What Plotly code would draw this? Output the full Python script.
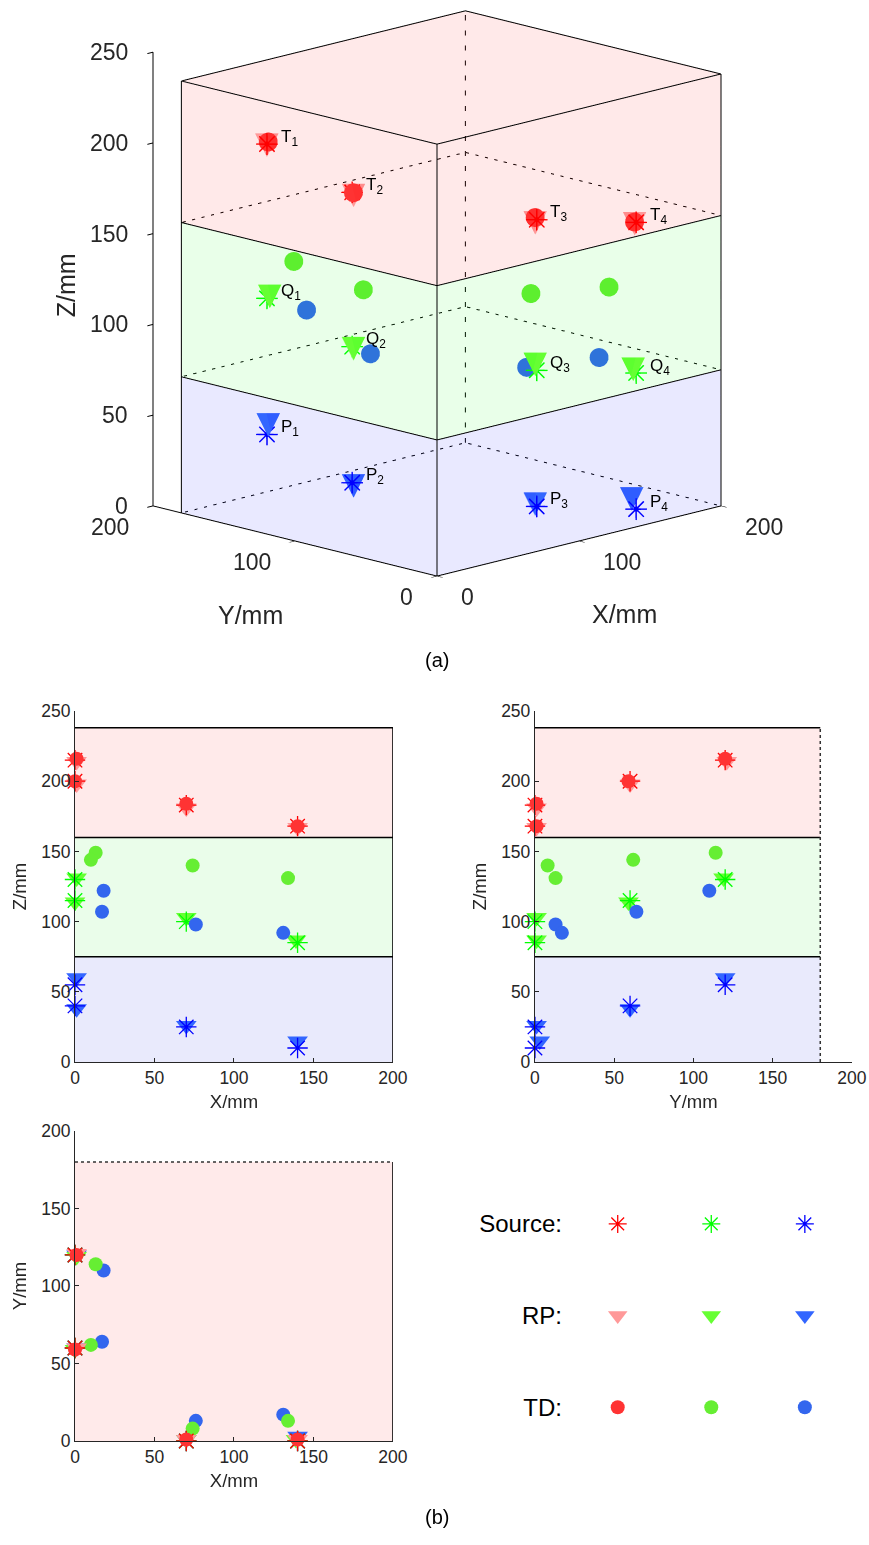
import plotly.graph_objects as go

# ---------------- data ----------------
GROUPS = ["T", "Q", "P"]
SRC_X = [0, 0, 70, 140]
SRC_Y = [120, 60, 0, 0]
T_SRC_Z = [215, 200, 183, 168]
Q_SRC_Z = [130, 115, 100, 85]
P_SRC_Z = [55, 40, 25, 10]

T_RP_X = [1, 1, 70, 140]
T_RP_Y = [121, 60, 1, 1]
T_RP_Z = [214, 198, 181, 167]
Q_RP_X = [1, 0, 70, 139]
Q_RP_Y = [119, 59, 1, 1]
Q_RP_Z = [131, 114, 103, 87]
P_RP_X = [1, 1, 70, 140]
P_RP_Y = [120, 60, 1, 3]
P_RP_Z = [60, 38, 26, 15]

T_TD_X = [1, 0, 70, 140]
T_TD_Y = [120, 59, 1, 1]
T_TD_Z = [216, 200, 184, 168]
Q_TD_X = [13, 10, 74, 134]
Q_TD_Y = [114, 62, 8, 13]
Q_TD_Z = [149, 144, 140, 131]
P_TD_X = [18, 17, 76, 131]
P_TD_Y = [110, 64, 13, 17]
P_TD_Z = [122, 107, 98, 92]

LAYER_Z = [0, 75, 160, 238]
BOX_X = 200
BOX_Y = 180

X_TICKS = [0, 100, 200]
Y_TICKS = [0, 100, 200]
Z_TICKS = [0, 50, 100, 150, 200, 250]
TICKS_50 = [0, 50, 100, 150, 200, 250]
LEGEND_ROWS = ["TD:", "RP:", "Source:"]
LEGEND_COLS = ["c1", "c2", "c3"]

SRC_COL = ["#FF0000", "#00FF00", "#0000FF"]
RP_COL = ["#FF9999", "#66FF33", "#3366FF"]
TD_COL = ["#FF3333", "#66EE33", "#3366EE"]
LAYER_RGB = ["0,0,255", "0,255,0", "255,0,0"]      # bottom -> top
LAYER_FILL = ["rgb(233,234,252)", "rgb(234,253,234)", "rgb(255,234,234)"]

SRC_Z = {"T": T_SRC_Z, "Q": Q_SRC_Z, "P": P_SRC_Z}
RP = {"T": (T_RP_X, T_RP_Y, T_RP_Z), "Q": (Q_RP_X, Q_RP_Y, Q_RP_Z), "P": (P_RP_X, P_RP_Y, P_RP_Z)}
TD = {"T": (T_TD_X, T_TD_Y, T_TD_Z), "Q": (Q_TD_X, Q_TD_Y, Q_TD_Z), "P": (P_TD_X, P_TD_Y, P_TD_Z)}

FONT = "Liberation Sans, Arial, sans-serif"
TXT = "#262626"

fig = go.Figure()

# ---------------- 3D scene ----------------
top = LAYER_Z[-1]
for li in range(3):
    z0, z1 = LAYER_Z[li], LAYER_Z[li + 1]
    xs = [0, 0, 0, 0, 0, BOX_X, BOX_X, 0]
    ys = [0, BOX_Y, BOX_Y, 0, 0, 0, 0, 0]
    zs = [z0, z0, z1, z1, z0, z0, z1, z1]
    I, J, K = [0, 0, 4, 4], [1, 2, 5, 6], [2, 3, 6, 7]
    if li == 2:
        xs += [0, BOX_X, BOX_X, 0]
        ys += [0, 0, BOX_Y, BOX_Y]
        zs += [z1, z1, z1, z1]
        I += [8, 8]; J += [9, 10]; K += [10, 11]
    fig.add_trace(go.Mesh3d(x=xs, y=ys, z=zs, i=I, j=J, k=K,
                            color="rgb(%s)" % LAYER_RGB[li], opacity=0.085,
                            flatshading=True, hoverinfo="skip", showscale=False,
                            lighting=dict(ambient=1, diffuse=0, specular=0, roughness=1, fresnel=0)))

sx, sy, sz = [], [], []
def seg(px, py, pz, pts):
    for p in pts:
        px.append(p[0]); py.append(p[1]); pz.append(p[2])
    px.append(None); py.append(None); pz.append(None)

for (ex, ey) in [(0, 0), (0, BOX_Y), (BOX_X, 0)]:
    seg(sx, sy, sz, [(ex, ey, 0), (ex, ey, top)])
for z in LAYER_Z:
    seg(sx, sy, sz, [(0, BOX_Y, z), (0, 0, z), (BOX_X, 0, z)])
seg(sx, sy, sz, [(0, BOX_Y, top), (BOX_X, BOX_Y, top), (BOX_X, 0, top)])
fig.add_trace(go.Scatter3d(x=sx, y=sy, z=sz, mode="lines", line=dict(color="black", width=2),
                           hoverinfo="skip", showlegend=False))
dx, dy, dz = [], [], []
seg(dx, dy, dz, [(BOX_X, BOX_Y, 0), (BOX_X, BOX_Y, top)])
for z in LAYER_Z[:-1]:
    seg(dx, dy, dz, [(0, BOX_Y, z), (BOX_X, BOX_Y, z), (BOX_X, 0, z)])
fig.add_trace(go.Scatter3d(x=dx, y=dy, z=dz, mode="lines", line=dict(color="black", width=2, dash="dot"),
                           hoverinfo="skip", showlegend=False))

annots3d = []
for gi, g in enumerate(GROUPS):
    rx, ry, rz = RP[g]
    fig.add_trace(go.Scatter3d(x=rx, y=ry, z=rz, mode="text", text=["▼"] * len(rx),
                               textposition="middle center",
                               textfont=dict(color=RP_COL[gi], size=31, family="DejaVu Sans"),
                               hoverinfo="skip", showlegend=False))
    fig.add_trace(go.Scatter3d(x=SRC_X, y=SRC_Y, z=SRC_Z[g], mode="text", text=["✳"] * len(SRC_X),
                               textposition="middle center",
                               textfont=dict(color=SRC_COL[gi], size=30, family="DejaVu Sans"),
                               hoverinfo="skip", showlegend=False))
    tx, ty, tz = TD[g]
    fig.add_trace(go.Scatter3d(x=tx, y=ty, z=tz, mode="markers",
                               marker=dict(symbol="circle", size=11, color=TD_COL[gi], line=dict(width=0)),
                               hoverinfo="skip", showlegend=False))
    for k in range(len(SRC_X)):
        annots3d.append(dict(x=SRC_X[k], y=SRC_Y[k], z=SRC_Z[g][k], text="%s<sub>%d</sub>" % (g, k + 1),
                             showarrow=False, xanchor="left", yanchor="middle", xshift=12, yshift=6,
                             font=dict(family=FONT, size=17, color="black")))

tick_font3 = dict(family=FONT, size=23, color=TXT)
for v in X_TICKS:
    annots3d.append(dict(x=v, y=0, z=0, text=str(v), showarrow=False, xanchor="left", yanchor="middle",
                         xshift=22, yshift=-21, font=tick_font3))
for v in Y_TICKS:
    annots3d.append(dict(x=0, y=v, z=0, text=str(v), showarrow=False, xanchor="right", yanchor="middle",
                         xshift=-22, yshift=-21, font=tick_font3))
for v in Z_TICKS:
    annots3d.append(dict(x=0, y=Y_TICKS[-1], z=v, text=str(v), showarrow=False, xanchor="right",
                         yanchor="middle", xshift=-23, yshift=0, font=tick_font3))
title_font3 = dict(family=FONT, size=25, color=TXT)
annots3d.append(dict(x=X_TICKS[1], y=0, z=0, text="X/mm", showarrow=False, xshift=45, yshift=-73,
                     font=title_font3))
annots3d.append(dict(x=0, y=Y_TICKS[1], z=0, text="Y/mm", showarrow=False, xshift=-45, yshift=-74,
                     font=title_font3))
annots3d.append(dict(x=0, y=Y_TICKS[-1], z=Z_TICKS[-1] / 2, text="Z/mm", showarrow=False, xshift=-87,
                     yshift=-6, textangle=-90, font=title_font3))

ax3 = dict(showbackground=False, showgrid=False, zeroline=False, showline=True, linecolor="black",
           linewidth=2, ticks="outside", ticklen=8, tickcolor="black", tickwidth=2, showspikes=False,
           showticklabels=False, title=dict(text=""))

SC = 1.255
zc = -0.132
fig.update_layout(scene=dict(
    domain=dict(x=[0.006, 1.0], y=[0.5858, 1.0]),
    xaxis=dict(ax3, range=[0, 200], tickvals=X_TICKS),
    yaxis=dict(ax3, range=[0, 200], tickvals=Y_TICKS),
    zaxis=dict(ax3, range=[0, 250], tickvals=Z_TICKS),
    aspectmode="manual", aspectratio=dict(x=SC, y=SC, z=1.166 * SC),
    camera=dict(projection=dict(type="orthographic"), up=dict(x=0, y=0, z=1),
                center=dict(x=0, y=0, z=zc), eye=dict(x=-1.184, y=-1.184, z=0.427 + zc)),
    annotations=annots3d,
))

# ---------------- 2D projections ----------------
def add_view(xa, ya, hkey, vkey):
    order = [2, 1, 0] if (hkey, vkey) == ("x", "y") else [0, 1, 2]
    for gi in order:
        g = GROUPS[gi]
        src = {"x": SRC_X, "y": SRC_Y, "z": SRC_Z[g]}
        rx, ry, rz = RP[g]
        rp = {"x": rx, "y": ry, "z": rz}
        tx, ty, tz = TD[g]
        td = {"x": tx, "y": ty, "z": tz}
        fig.add_trace(go.Scatter(x=rp[hkey], y=rp[vkey], xaxis=xa, yaxis=ya, mode="markers",
                                 marker=dict(symbol="triangle-down", size=18, color=RP_COL[gi], line=dict(width=0)),
                                 hoverinfo="skip", showlegend=False, cliponaxis=False))
        fig.add_trace(go.Scatter(x=src[hkey], y=src[vkey], xaxis=xa, yaxis=ya, mode="markers",
                                 marker=dict(symbol="asterisk-open", size=17, color=SRC_COL[gi],
                                             line=dict(width=1.3, color=SRC_COL[gi])),
                                 hoverinfo="skip", showlegend=False, cliponaxis=False))
        fig.add_trace(go.Scatter(x=td[hkey], y=td[vkey], xaxis=xa, yaxis=ya, mode="markers",
                                 marker=dict(symbol="circle", size=14, color=TD_COL[gi], line=dict(width=0)),
                                 hoverinfo="skip", showlegend=False, cliponaxis=False))

add_view("x", "y", "x", "z")
add_view("x2", "y2", "y", "z")
add_view("x3", "y3", "x", "y")

shapes = []
for li in range(3):
    z0, z1 = LAYER_Z[li], LAYER_Z[li + 1]
    for (xr, yr, w) in [("x", "y", BOX_X), ("x2", "y2", BOX_Y)]:
        shapes.append(dict(type="rect", xref=xr, yref=yr, x0=0, x1=w, y0=z0, y1=z1,
                           fillcolor=LAYER_FILL[li], line=dict(width=0), layer="below"))
shapes.append(dict(type="rect", xref="x3", yref="y3", x0=0, x1=BOX_X, y0=0, y1=BOX_Y,
                   fillcolor=LAYER_FILL[2], line=dict(width=0), layer="below"))
for z in LAYER_Z[1:]:
    shapes.append(dict(type="line", xref="x", yref="y", x0=0, x1=BOX_X, y0=z, y1=z,
                       line=dict(color="black", width=1.5), layer="below"))
    shapes.append(dict(type="line", xref="x2", yref="y2", x0=0, x1=BOX_Y, y0=z, y1=z,
                       line=dict(color="black", width=1.5), layer="below"))
shapes.append(dict(type="line", xref="x", yref="y", x0=BOX_X, x1=BOX_X, y0=0, y1=top,
                   line=dict(color="black", width=1.5), layer="below"))
shapes.append(dict(type="line", xref="x2", yref="y2", x0=BOX_Y, x1=BOX_Y, y0=0, y1=top,
                   line=dict(color="#333333", width=1.5, dash="dot"), layer="below"))
shapes.append(dict(type="line", xref="x3", yref="y3", x0=BOX_X, x1=BOX_X, y0=0, y1=BOX_Y,
                   line=dict(color="black", width=1.5), layer="below"))
shapes.append(dict(type="line", xref="x3", yref="y3", x0=0, x1=BOX_X, y0=BOX_Y, y1=BOX_Y,
                   line=dict(color="#333333", width=1.5, dash="dot"), layer="below"))

ax2 = dict(showline=True, linecolor="#262626", linewidth=1.2, ticks="inside", ticklen=4,
           tickcolor="#262626", showgrid=False, zeroline=False, automargin=False,
           tickfont=dict(family=FONT, size=17.5, color=TXT), title_font=dict(family=FONT, size=18.5, color=TXT))

fig.update_layout(
    xaxis=dict(ax2, domain=[0.0863, 0.4522], range=[0, 200], tickvals=TICKS_50[:5], anchor="y",
               title=dict(text="X/mm", standoff=7)),
    yaxis=dict(ax2, domain=[0.3126, 0.5398], range=[0, 250], tickvals=TICKS_50, anchor="x",
               title=dict(text="Z/mm", standoff=9)),
    xaxis2=dict(ax2, domain=[0.6156, 0.9804], range=[0, 200], tickvals=TICKS_50[:5], anchor="y2",
                title=dict(text="Y/mm", standoff=7)),
    yaxis2=dict(ax2, domain=[0.3126, 0.5398], range=[0, 250], tickvals=TICKS_50, anchor="x2",
                title=dict(text="Z/mm", standoff=9)),
    xaxis3=dict(ax2, domain=[0.0863, 0.4522], range=[0, 200], tickvals=TICKS_50[:5], anchor="y3",
                title=dict(text="X/mm", standoff=7)),
    yaxis3=dict(ax2, domain=[0.0673, 0.2680], range=[0, 200], tickvals=TICKS_50[:5], anchor="x3",
                title=dict(text="Y/mm", standoff=9)),
    xaxis4=dict(domain=[0.657, 0.980], type="category", categoryorder="array", categoryarray=LEGEND_COLS,
                range=[-0.5, 2.5], showticklabels=False, showline=False, showgrid=False, zeroline=False,
                anchor="y4", automargin=False),
    yaxis4=dict(domain=[0.0595, 0.2375], type="category", categoryorder="array", categoryarray=LEGEND_ROWS,
                range=[-0.5, 2.5], showline=False, showgrid=False, zeroline=False, ticks="",
                ticklabelstandoff=8,
                tickfont=dict(family=FONT, size=24, color="black"), anchor="x4", automargin=False),
    shapes=shapes,
)

fig.add_trace(go.Scatter(x=LEGEND_COLS, y=["Source:"] * 3, xaxis="x4", yaxis="y4", mode="markers",
                         marker=dict(symbol="asterisk-open", size=15, color=SRC_COL, line=dict(width=1.3, color=SRC_COL)),
                         hoverinfo="skip", showlegend=False))
fig.add_trace(go.Scatter(x=LEGEND_COLS, y=["RP:"] * 3, xaxis="x4", yaxis="y4", mode="markers",
                         marker=dict(symbol="triangle-down", size=17, color=RP_COL, line=dict(width=0)),
                         hoverinfo="skip", showlegend=False))
fig.add_trace(go.Scatter(x=LEGEND_COLS, y=["TD:"] * 3, xaxis="x4", yaxis="y4", mode="markers",
                         marker=dict(symbol="circle", size=14, color=TD_COL, line=dict(width=0)),
                         hoverinfo="skip", showlegend=False))

fig.update_layout(
    width=869, height=1545, margin=dict(l=0, r=0, t=0, b=0, autoexpand=False),
    paper_bgcolor="white", plot_bgcolor="white", showlegend=False,
    font=dict(family=FONT, color=TXT),
    annotations=[
        dict(x=0.503, y=1 - 660 / 1545, xref="paper", yref="paper", text="(a)", showarrow=False,
             font=dict(family=FONT, size=20, color="black")),
        dict(x=0.503, y=1 - 1530 / 1545, xref="paper", yref="paper", text="(b)", showarrow=False,
             font=dict(family=FONT, size=20, color="black")),
    ],
)

fig.write_html("out.html", config={"displayModeBar": False},
               post_script="document.body.style.margin='0';document.body.style.overflow='hidden';")
